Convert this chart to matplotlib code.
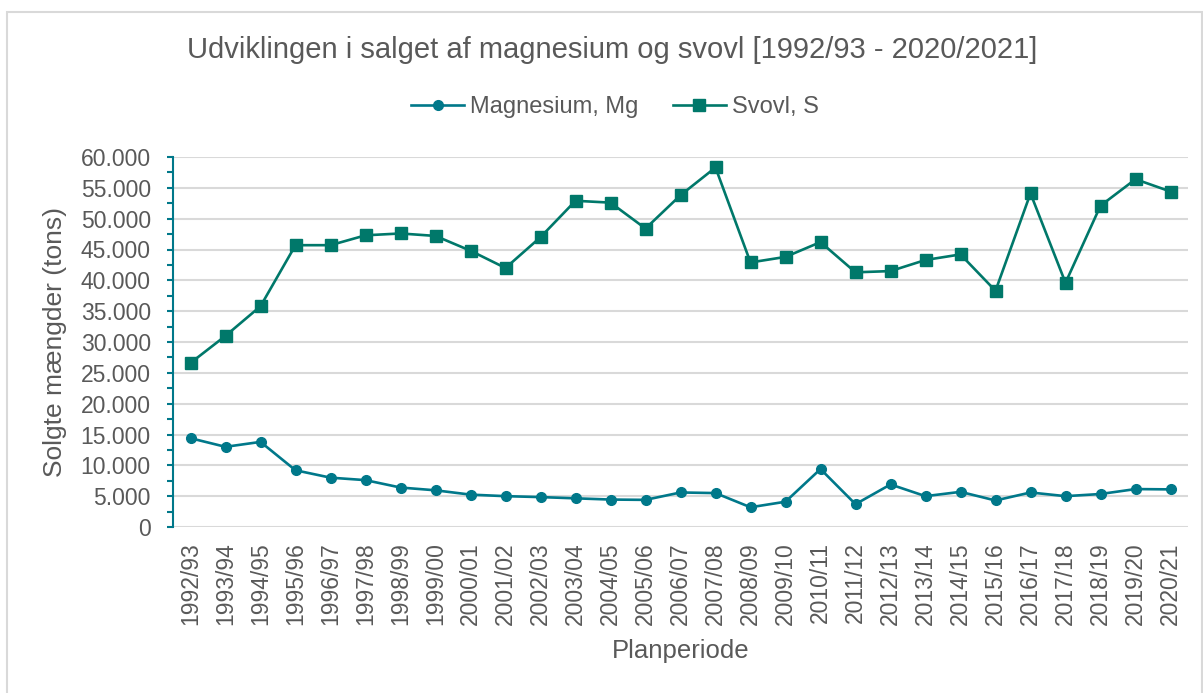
import matplotlib
matplotlib.use("Agg")
import matplotlib.pyplot as plt
from matplotlib.ticker import MultipleLocator, FuncFormatter
from matplotlib.patches import Rectangle

categories = ["1992/93", "1993/94", "1994/95", "1995/96", "1996/97", "1997/98", "1998/99",
              "1999/00", "2000/01", "2001/02", "2002/03", "2003/04", "2004/05", "2005/06",
              "2006/07", "2007/08", "2008/09", "2009/10", "2010/11", "2011/12", "2012/13",
              "2013/14", "2014/15", "2015/16", "2016/17", "2017/18", "2018/19", "2019/20",
              "2020/21"]

magnesium = [14400, 13000, 13800, 9200, 8000, 7600, 6400, 5950, 5250, 5000, 4850, 4650,
             4450, 4400, 5600, 5500, 3200, 4100, 9400, 3700, 6900, 5000, 5700, 4300, 5600,
             5000, 5350, 6150, 6100]

svovl = [26600, 31000, 35800, 45700, 45700, 47300, 47600, 47200, 44800, 42000, 47000,
         52900, 52600, 48400, 53800, 58300, 42900, 43800, 46200, 41300, 41500, 43300,
         44200, 38300, 54100, 39600, 52100, 56400, 54400]

title = "Udviklingen i salget af magnesium og svovl [1992/93 - 2020/2021]"
ylabel = "Solgte mængder (tons)"
xlabel = "Planperiode"

plt.rcParams['font.family'] = ['Liberation Sans', 'DejaVu Sans']
txt = "#595959"
c_mg = "#00788A"
c_s = "#00786A"

fig = plt.figure(figsize=(12.03, 6.93), dpi=100)
fig.patches.append(Rectangle((7/1203, -0.02), (1202-7)/1203, 1.02 - 12/693, transform=fig.transFigure,
                             fill=False, edgecolor="#D9D9D9", linewidth=1.5))
ax = fig.add_axes([173/1203, 1 - 527/693, (1188-173)/1203, (527-157)/693])

x = list(range(len(categories)))
ax.plot(x, magnesium, color=c_mg, lw=1.9, marker="o", ms=7, label="Magnesium, Mg", zorder=3)
ax.plot(x, svovl, color=c_s, lw=1.9, marker="s", ms=8.5, label="Svovl, S", zorder=3)

ax.set_xlim(-0.5, len(categories) - 0.5)
ax.set_ylim(0, 60000)
ax.yaxis.set_major_locator(MultipleLocator(5000))
ax.yaxis.set_minor_locator(MultipleLocator(2500))
ax.yaxis.set_major_formatter(FuncFormatter(lambda v, p: f"{int(v):,}".replace(",", ".")))
ax.grid(axis="y", which="major", color="#D9D9D9", lw=1.5, zorder=0)
ax.set_axisbelow(True)

for s in ["top", "right", "bottom"]:
    ax.spines[s].set_visible(False)
ax.spines["left"].set_color(c_mg)
ax.spines["left"].set_linewidth(1.5)

ax.set_xticks(x)
ax.set_xticklabels(categories, rotation=90)
ax.tick_params(axis="x", length=0, pad=11, labelsize=16.5, labelcolor=txt)
ax.tick_params(axis="y", which="both", length=4, width=1.5, color=c_mg, labelsize=16.5,
               labelcolor=txt, pad=12)

ax.set_ylabel(ylabel, fontsize=19, color=txt, labelpad=10)
ax.set_xlabel(xlabel, fontsize=18.5, color=txt, labelpad=10)

fig.text(612/1203, 1 - 50/693, title, ha="center", va="center", fontsize=21, color=txt)
fig.legend(loc="center", bbox_to_anchor=(615/1203, 1 - 107/693), ncol=2, frameon=False,
           fontsize=17, labelcolor=txt, handlelength=2.25, handletextpad=0.25, columnspacing=1.45)

fig.savefig("out.png", dpi=100)
